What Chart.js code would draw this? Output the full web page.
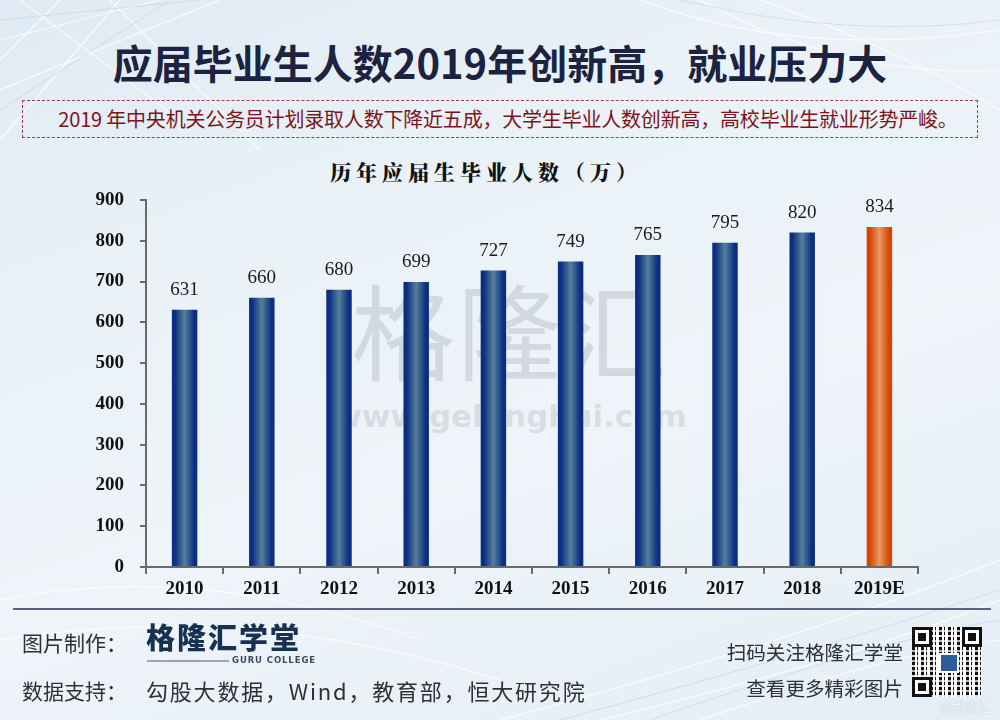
<!DOCTYPE html>
<html>
<head>
<meta charset="utf-8">
<script src="https://cdn.jsdelivr.net/npm/chart.js@4.4.1/dist/chart.umd.min.js"></script>
<style>
  html, body { margin:0; padding:0; }
  body { width:1000px; height:720px; overflow:hidden; position:relative;
    background: linear-gradient(160deg, #dfeaf4 0%, #eaf2f7 30%, #eef4f8 60%, #e4eef6 100%);
    font-family: "Noto Sans CJK SC", "Noto Sans", sans-serif; }
  .abs { position:absolute; white-space:nowrap; }
  #bgsvg { left:0; top:0; }
  #title { left:0; width:1000px; top:36px; text-align:center; font-size:40px; font-weight:700; color:#1b2340; line-height:52px; }
  #subbox { left:22px; top:100px; width:956px; height:38px; border:1.5px dashed #a33a46; box-sizing:border-box; }
  #sub { left:30px; width:956px; top:100px; height:38px; line-height:37px; text-align:center; font-size:20px; color:#7e1419; letter-spacing:-0.2px; }
  #ctitle { left:0; width:972px; top:156px; text-align:center; font-size:21px; font-weight:900; color:#111; letter-spacing:5px; line-height:30px; font-family: "Noto Serif CJK SC", "Noto Sans CJK SC", serif; }
  #wm1 { left:300px; top:258px; width:420px; text-align:center; font-size:104px; line-height:140px; color:rgba(150,158,165,0.30); letter-spacing:2px; font-weight:400; }
  #wm2 { left:300px; top:396px; width:420px; text-align:center; font-size:31px; line-height:40px; font-weight:700; color:rgba(150,158,165,0.26); font-family:"DejaVu Sans", sans-serif; }
  #c { left:0; top:0; }
  #fline { left:13px; top:608px; width:978px; height:2px; background:#5c627a; }
  .ft { color:#2e3038; line-height:30px; }
  #f1 { left:22px; top:627px; font-size:21px; }
  #f2a { left:22px; top:675px; font-size:21px; }
  #f2b { left:146px; top:675px; font-size:22px; letter-spacing:1.8px; }
  #logo { left:146px; top:617px; font-size:29px; font-weight:900; color:#173150; letter-spacing:2px; line-height:38px; }
  #logoline { left:147px; top:660px; width:82px; height:1.5px; background:#9aa5b5; }
  #logosub { left:232px; top:654px; font-size:8.5px; font-weight:700; color:#3a4a60; letter-spacing:0.9px; font-family:"DejaVu Sans", sans-serif; line-height:12px; }
  #r1 { right:97px; top:638px; text-align:right; font-size:19.6px; color:#2e3038; line-height:28px; }
  #r2 { right:97px; top:674px; text-align:right; font-size:19.6px; color:#2e3038; line-height:28px; }
  #qr { left:912px; top:627px; width:70px; height:70px; background:
      repeating-linear-gradient(90deg, #111 0 3px, #fff 3px 5px, #111 5px 6px, #fff 6px 9px),
      #fff; }
  .fp { position:absolute; width:14px; height:14px; border:3px solid #111; background:#fff; }
  .fp::after { content:""; position:absolute; left:3px; top:3px; width:8px; height:8px; background:#111; }
  #qrmask { left:912px; top:627px; width:70px; height:70px;
     background: repeating-linear-gradient(0deg, rgba(255,255,255,0.85) 0 2px, rgba(255,255,255,0) 2px 5px, rgba(255,255,255,0.7) 5px 7px, rgba(255,255,255,0) 7px 10px); }
  #qrc { left:939px; top:653px; width:16px; height:16px; background:#2b5d9c; border:2px solid #fff; }
  #at { left:940px; top:698px; font-size:13px; color:#f4f6f8; line-height:18px; text-shadow:0 0 1px #9aa; }
</style>
</head>
<body>
<svg id="bgsvg" class="abs" width="1000" height="720">
  <g stroke="#ffffff" stroke-width="1.2" fill="none" opacity="0.8">
    <path d="M0 40 L160 0"/><path d="M0 90 L220 0"/><path d="M0 140 L120 0"/>
    <path d="M20 0 L180 120"/><path d="M60 0 L0 60"/><path d="M110 0 L260 150"/>
    <path d="M640 0 Q 800 60 1000 30"/><path d="M700 0 Q 850 80 1000 70"/><path d="M760 0 Q 900 50 1000 110"/>
    <path d="M500 720 Q 800 640 1000 560"/><path d="M600 720 Q 850 660 1000 600"/><path d="M700 720 Q 900 650 1000 640"/>
    <path d="M0 600 Q 200 560 420 640"/><path d="M0 640 Q 250 600 500 680"/>
  </g>
  <g stroke="#bcd3ea" stroke-width="1" fill="none" opacity="0.6">
    <path d="M0 20 L200 0"/><path d="M0 110 L170 0"/><path d="M680 0 Q 850 40 1000 20"/>
    <path d="M560 720 Q 820 650 1000 590"/><path d="M650 720 Q 880 640 1000 620"/>
  </g>
</svg>
<div id="wm1" class="abs">格隆汇</div>
<div id="wm2" class="abs">www.gelonghui.com</div>
<div id="title" class="abs">应届毕业生人数2019年创新高，就业压力大</div>
<div id="subbox" class="abs"></div>
<div id="sub" class="abs">2019 年中央机关公务员计划录取人数下降近五成，大学生毕业人数创新高，高校毕业生就业形势严峻。</div>
<div id="ctitle" class="abs">历年应届生毕业人数（万）</div>
<canvas id="c" class="abs" width="1000" height="720"></canvas>
<div id="fline" class="abs"></div>
<div id="f1" class="abs ft">图片制作：</div>
<div id="logo" class="abs">格隆汇学堂</div>
<div id="logoline" class="abs"></div>
<div id="logosub" class="abs">GURU COLLEGE</div>
<div id="f2a" class="abs ft">数据支持：</div>
<div id="f2b" class="abs ft">勾股大数据，Wind，教育部，恒大研究院</div>
<div id="r1" class="abs">扫码关注格隆汇学堂</div>
<div id="r2" class="abs">查看更多精彩图片</div>
<div id="qr" class="abs"></div>
<div id="qrmask" class="abs"></div>
<div class="fp" style="left:912px;top:627px;"></div>
<div class="fp" style="left:962px;top:627px;"></div>
<div class="fp" style="left:912px;top:677px;"></div>
<div id="qrc" class="abs"></div>
<div id="at" class="abs">@格隆汇</div>

<script>
const years = ["2010","2011","2012","2013","2014","2015","2016","2017","2018","2019E"];
const graduates = [631, 660, 680, 699, 727, 749, 765, 795, 820, 834];
const yTicks = [0,100,200,300,400,500,600,700,800,900];
const estimateIndex = 9;

const BAR_PCT = 0.33;

function barGradient(ctx) {
  const chart = ctx.chart;
  const xs = chart.scales && chart.scales.x;
  const isEst = ctx.dataIndex === estimateIndex;
  const edge = isEst ? '#d84306' : '#0a2e80';
  const mid = isEst ? '#e79a62' : '#557f9b';
  if (!xs || ctx.type !== 'data' || !xs.width) return edge;
  const cx = xs.getPixelForValue(ctx.dataIndex);
  const w = xs.width / years.length * BAR_PCT;
  const g = chart.ctx.createLinearGradient(cx - w/2, 0, cx + w/2, 0);
  g.addColorStop(0, edge);
  g.addColorStop(0.12, edge);
  g.addColorStop(0.5, mid);
  g.addColorStop(0.88, edge);
  g.addColorStop(1, edge);
  return g;
}

const valueLabels = {
  id: 'valueLabels',
  afterDatasetsDraw(chart) {
    const c = chart.ctx;
    const meta = chart.getDatasetMeta(0);
    c.save();
    c.font = '19px "Liberation Serif", "Times New Roman", serif';
    c.fillStyle = '#1a1a1a';
    c.textAlign = 'center';
    c.textBaseline = 'middle';
    meta.data.forEach((el, i) => {
      c.fillText(String(chart.data.datasets[0].data[i]), el.x, el.y - 20);
    });
    c.restore();
  }
};

new Chart(document.getElementById('c'), {
  type: 'bar',
  data: {
    labels: years,
    datasets: [{
      data: graduates,
      backgroundColor: barGradient,
      borderWidth: 0,
      barPercentage: BAR_PCT,
      categoryPercentage: 1
    }]
  },
  options: {
    responsive: false,
    animation: false,
    events: [],
    layout: { padding: { left: 0, right: 82, top: 200, bottom: 103 } },
    plugins: { legend: { display: false }, tooltip: { enabled: false } },
    scales: {
      x: {
        afterFit(scale) { scale.height = 50; },
        grid: { drawOnChartArea: false, drawTicks: true, tickLength: 7, offset: true, color: '#6a6a6a', lineWidth: 2 },
        border: { display: true, color: '#6a6a6a', width: 2 },
        ticks: { padding: 4, color: '#111', font: { family: '"Liberation Serif", "Times New Roman", serif', size: 19, weight: 'bold' } }
      },
      y: {
        min: 0, max: 900,
        afterFit(scale) { scale.width = 146; },
        afterBuildTicks(scale) { scale.ticks = yTicks.map(v => ({ value: v })); },
        grid: { drawOnChartArea: false, drawTicks: true, tickLength: 6, color: '#6a6a6a', lineWidth: 2 },
        border: { display: true, color: '#6a6a6a', width: 2 },
        ticks: { padding: 16, color: '#111', font: { family: '"Liberation Serif", "Times New Roman", serif', size: 19, weight: 'bold' } }
      }
    }
  },
  plugins: [valueLabels]
});
</script>
</body>
</html>
